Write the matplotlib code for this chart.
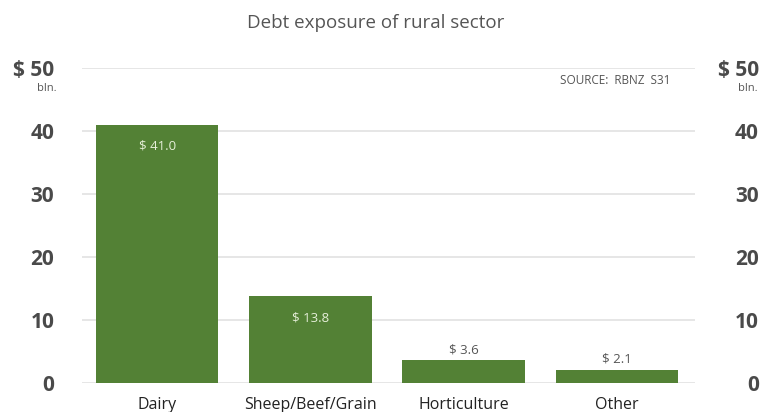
import matplotlib
matplotlib.use("Agg")
import matplotlib.pyplot as plt

categories = ["Dairy", "Sheep/Beef/Grain", "Horticulture", "Other"]
values = [41.0, 13.8, 3.6, 2.1]
value_labels = ["$ 41.0", "$ 13.8", "$ 3.6", "$ 2.1"]
yticks = [0, 10, 20, 30, 40, 50]
ytick_labels = ["0", "10", "20", "30", "40", "$ 50"]
title = "Debt exposure of rural sector"
source = "SOURCE:  RBNZ  S31"

plt.rcParams['font.family'] = ['Open Sans', 'DejaVu Sans']

fig = plt.figure(figsize=(7.69, 4.12), dpi=100)
ax = fig.add_axes([0.1066, 0.0704, 0.7972, 0.7646])

green = "#538135"
tick_color = "#4a4a4a"
x = list(range(len(categories)))
bars = ax.bar(x, values, width=0.8, color=green, zorder=3)

ax.set_xlim(-0.49, 3.51)
ax.set_ylim(0, 50)
ax.set_yticks(yticks)
ax.set_yticklabels(ytick_labels, fontsize=15, fontweight='bold', color=tick_color)
ax.tick_params(axis='y', length=0, pad=20)

ax2 = ax.twinx()
ax2.set_ylim(0, 50)
ax2.set_yticks(yticks)
ax2.set_yticklabels(ytick_labels, fontsize=15, fontweight='bold', color=tick_color,
                    ha='right')
ax2.tick_params(axis='y', length=0, pad=46)
for s in ax2.spines.values():
    s.set_visible(False)

ax.set_xticks(x)
ax.set_xticklabels(categories, fontsize=11.5, color='#222222')
ax.tick_params(axis='x', length=0, pad=10)

ax.grid(axis='y', color='#e2e2e2', linewidth=1.2, zorder=0)
for s in ax.spines.values():
    s.set_visible(False)

# value labels
for b, v, lab in zip(bars, values, value_labels):
    if v > 10:
        ax.annotate(lab, (b.get_x() + b.get_width() / 2, v), xytext=(0, -11),
                    textcoords='offset points', ha='center', va='top',
                    fontsize=9.5, color='#e6efd9')
    else:
        ax.annotate(lab, (b.get_x() + b.get_width() / 2, v), xytext=(0, 3),
                    textcoords='offset points', ha='center', va='bottom',
                    fontsize=9.5, color='#555555')

fig.text(0.488, 0.943, title, ha='center', va='center', fontsize=13.5, color='#555555')
fig.text(0.872, 0.805, source, ha='right', va='center', fontsize=8.5, color='#555555')
fig.text(0.061, 0.786, "bln.", ha='center', va='center', fontsize=8, color='#555555')
fig.text(0.973, 0.786, "bln.", ha='center', va='center', fontsize=8, color='#555555')

fig.savefig("out.png", dpi=100)
